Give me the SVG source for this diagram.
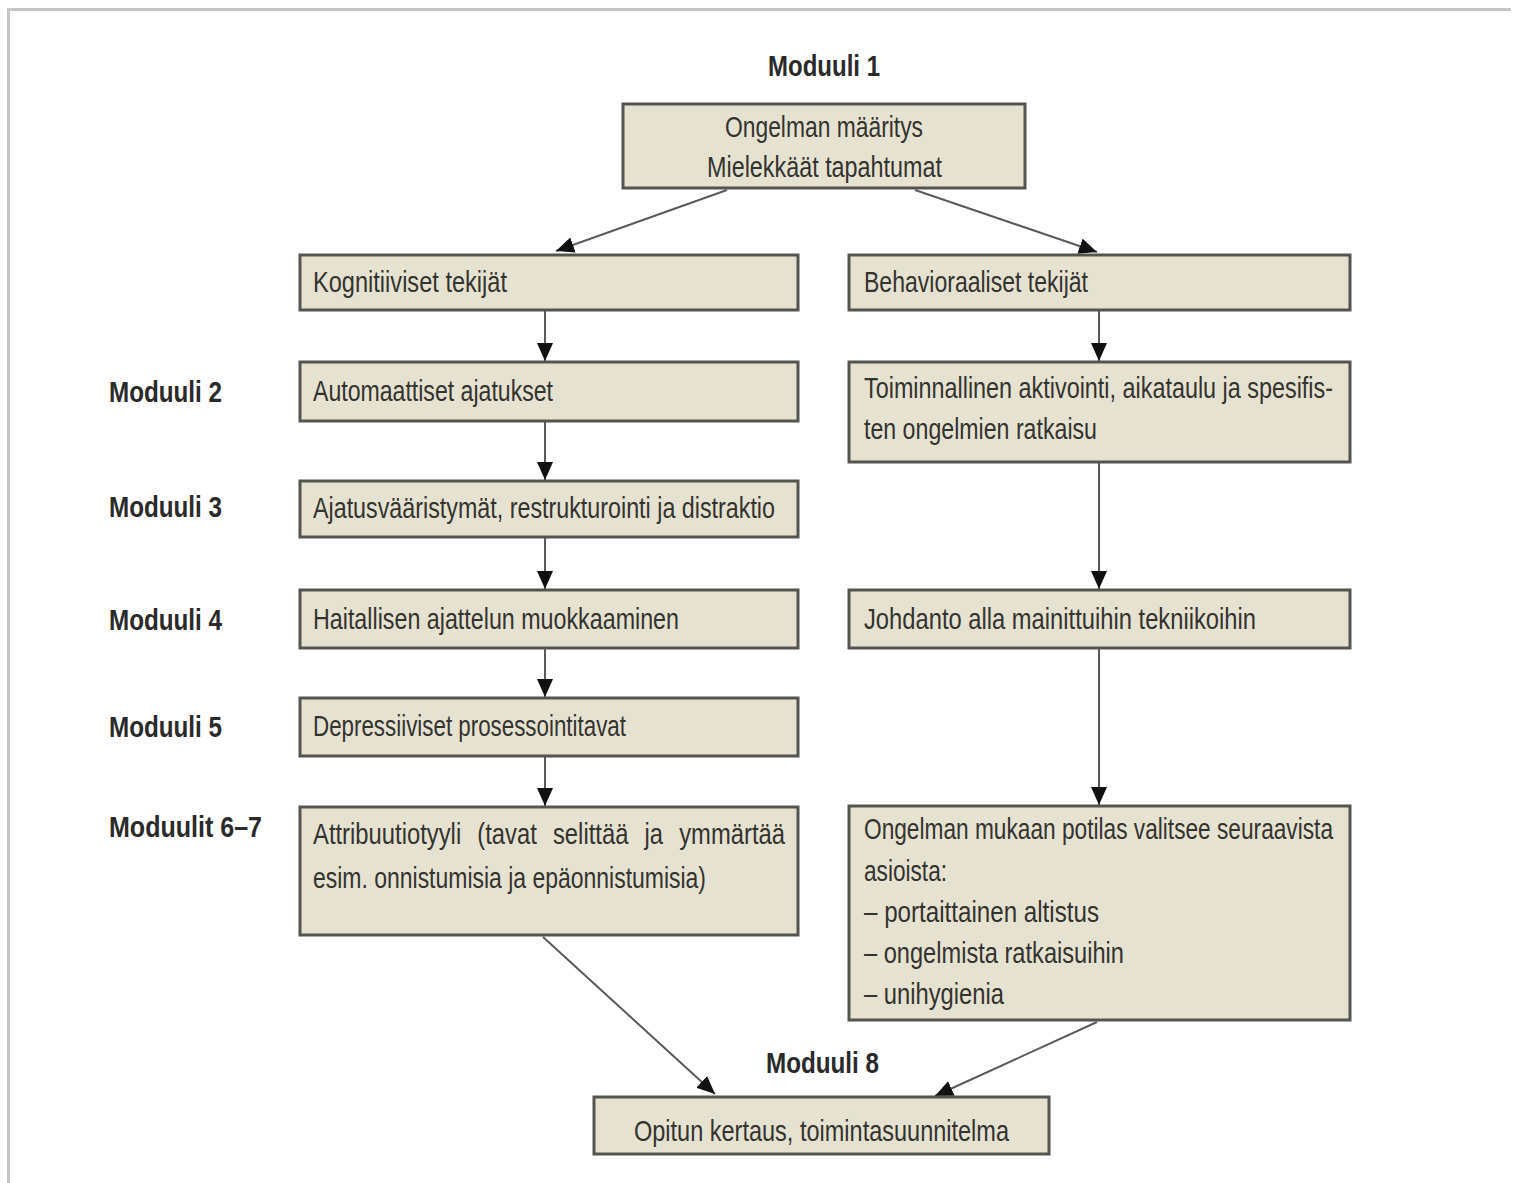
<svg xmlns="http://www.w3.org/2000/svg" width="1521" height="1183" viewBox="0 0 1521 1183">
<style>
.box{fill:#e6e2d2;stroke:#555550;stroke-width:3}
.t{font-family:"Liberation Sans",Arial,sans-serif;font-size:30px;fill:#333330}
.m{font-family:"Liberation Sans",Arial,sans-serif;font-size:30px;font-weight:bold;fill:#2a2a2a}
.c{fill:none;stroke:#5a5a5a;stroke-width:2}
</style>
<defs>
<marker id="a" markerWidth="18" markerHeight="16" refX="18" refY="8" orient="auto" markerUnits="userSpaceOnUse">
<path d="M0,0 L18,8 L0,16 Z" fill="#111"/>
</marker>
</defs>
<rect width="1521" height="1183" fill="#fff"/>
<path d="M7,9.5 H1511 M8.5,8 V1183" stroke="#c4c4c4" stroke-width="3" fill="none"/>

<g id="labels">
<text class="m" x="768" y="76" textLength="112" lengthAdjust="spacingAndGlyphs">Moduuli 1</text>
<text class="m" x="109" y="402" textLength="113" lengthAdjust="spacingAndGlyphs">Moduuli 2</text>
<text class="m" x="109" y="517" textLength="113" lengthAdjust="spacingAndGlyphs">Moduuli 3</text>
<text class="m" x="109" y="630" textLength="113" lengthAdjust="spacingAndGlyphs">Moduuli 4</text>
<text class="m" x="109" y="737" textLength="113" lengthAdjust="spacingAndGlyphs">Moduuli 5</text>
<text class="m" x="109" y="837" textLength="153" lengthAdjust="spacingAndGlyphs">Moduulit 6–7</text>
<text class="m" x="766" y="1073" textLength="113" lengthAdjust="spacingAndGlyphs">Moduuli 8</text>
</g>

<g id="connectors">
<line class="c" x1="727" y1="190" x2="556" y2="251" marker-end="url(#a)"/>
<line class="c" x1="915" y1="190" x2="1097" y2="252" marker-end="url(#a)"/>
<line class="c" x1="545" y1="311" x2="545" y2="361" marker-end="url(#a)"/>
<line class="c" x1="545" y1="422" x2="545" y2="480" marker-end="url(#a)"/>
<line class="c" x1="545" y1="538" x2="545" y2="589" marker-end="url(#a)"/>
<line class="c" x1="545" y1="649" x2="545" y2="697" marker-end="url(#a)"/>
<line class="c" x1="545" y1="757" x2="545" y2="806" marker-end="url(#a)"/>
<line class="c" x1="1099" y1="311" x2="1099" y2="361" marker-end="url(#a)"/>
<line class="c" x1="1099" y1="463" x2="1099" y2="589" marker-end="url(#a)"/>
<line class="c" x1="1099" y1="649" x2="1099" y2="805" marker-end="url(#a)"/>
<line class="c" x1="543" y1="937" x2="715" y2="1094" marker-end="url(#a)"/>
<line class="c" x1="1097" y1="1022" x2="935" y2="1096" marker-end="url(#a)"/>
</g>

<g id="n1">
<rect class="box" x="623" y="104" width="402" height="84"/>
<text class="t" x="725" y="137" textLength="198" lengthAdjust="spacingAndGlyphs">Ongelman määritys</text>
<text class="t" x="707" y="177" textLength="235" lengthAdjust="spacingAndGlyphs">Mielekkäät tapahtumat</text>
</g>
<g id="n2">
<rect class="box" x="300" y="255" width="498" height="55"/>
<text class="t" x="313" y="292" textLength="194" lengthAdjust="spacingAndGlyphs">Kognitiiviset tekijät</text>
</g>
<g id="n3">
<rect class="box" x="849" y="255" width="501" height="55"/>
<text class="t" x="864" y="292" textLength="224" lengthAdjust="spacingAndGlyphs">Behavioraaliset tekijät</text>
</g>
<g id="n4">
<rect class="box" x="300" y="362" width="498" height="59"/>
<text class="t" x="313" y="401" textLength="240" lengthAdjust="spacingAndGlyphs">Automaattiset ajatukset</text>
</g>
<g id="n5">
<rect class="box" x="849" y="362" width="501" height="100"/>
<text class="t" x="864" y="398" textLength="469" lengthAdjust="spacingAndGlyphs">Toiminnallinen aktivointi, aikataulu ja spesifis-</text>
<text class="t" x="864" y="439" textLength="233" lengthAdjust="spacingAndGlyphs">ten ongelmien ratkaisu</text>
</g>
<g id="n6">
<rect class="box" x="300" y="481" width="498" height="56"/>
<text class="t" x="313" y="518" textLength="462" lengthAdjust="spacingAndGlyphs">Ajatusvääristymät, restrukturointi ja distraktio</text>
</g>
<g id="n7">
<rect class="box" x="300" y="590" width="498" height="58"/>
<text class="t" x="313" y="629" textLength="366" lengthAdjust="spacingAndGlyphs">Haitallisen ajattelun muokkaaminen</text>
</g>
<g id="n8">
<rect class="box" x="849" y="590" width="501" height="58"/>
<text class="t" x="864" y="629" textLength="392" lengthAdjust="spacingAndGlyphs">Johdanto alla mainittuihin tekniikoihin</text>
</g>
<g id="n9">
<rect class="box" x="300" y="698" width="498" height="58"/>
<text class="t" x="313" y="736" textLength="313" lengthAdjust="spacingAndGlyphs">Depressiiviset prosessointitavat</text>
</g>
<g id="n10">
<rect class="box" x="300" y="807" width="498" height="128"/>
<text class="t" x="313" y="844" textLength="472" lengthAdjust="spacingAndGlyphs" word-spacing="12">Attribuutiotyyli (tavat selittää ja ymmärtää</text>
<text class="t" x="313" y="888" textLength="393" lengthAdjust="spacingAndGlyphs">esim. onnistumisia ja epäonnistumisia)</text>
</g>
<g id="n11">
<rect class="box" x="849" y="806" width="501" height="214"/>
<text class="t" x="864" y="839" textLength="469" lengthAdjust="spacingAndGlyphs">Ongelman mukaan potilas valitsee seuraavista</text>
<text class="t" x="864" y="881" textLength="83" lengthAdjust="spacingAndGlyphs">asioista:</text>
<text class="t" x="864" y="922" textLength="235" lengthAdjust="spacingAndGlyphs">– portaittainen altistus</text>
<text class="t" x="864" y="963" textLength="260" lengthAdjust="spacingAndGlyphs">– ongelmista ratkaisuihin</text>
<text class="t" x="864" y="1004" textLength="140" lengthAdjust="spacingAndGlyphs">– unihygienia</text>
</g>
<g id="n12">
<rect class="box" x="594" y="1097" width="455" height="57"/>
<text class="t" x="634" y="1141" textLength="375" lengthAdjust="spacingAndGlyphs">Opitun kertaus, toimintasuunnitelma</text>
</g>
</svg>
